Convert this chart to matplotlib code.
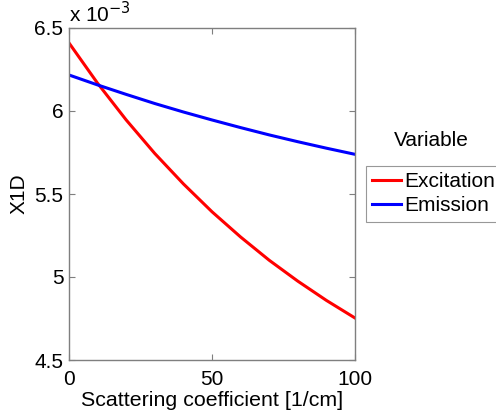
import matplotlib
matplotlib.use("Agg")
import matplotlib.pyplot as plt
from matplotlib.ticker import FuncFormatter

# Scattering coefficient [1/cm]
scattering = [0, 10, 20, 30, 40, 50, 60, 70, 80, 90, 100]
# X1D values for each variable
x1d_excitation = [6.410e-3, 6.167e-3, 5.946e-3, 5.744e-3, 5.561e-3, 5.393e-3,
                  5.241e-3, 5.101e-3, 4.975e-3, 4.859e-3, 4.753e-3]
x1d_emission = [6.217e-3, 6.157e-3, 6.100e-3, 6.045e-3, 5.994e-3, 5.946e-3,
                5.900e-3, 5.856e-3, 5.815e-3, 5.776e-3, 5.739e-3]
series_names = ["Excitation", "Emission"]
x_ticks = [0, 50, 100]
y_ticks = [4.5e-3, 5e-3, 5.5e-3, 6e-3, 6.5e-3]

plt.rcParams["font.family"] = ["Liberation Sans", "DejaVu Sans"]
fs = 15
gray = "#7f7f7f"

fig = plt.figure(figsize=(4.96, 4.17), dpi=100)
ax = fig.add_axes([69 / 496, 1 - 360 / 417, (355 - 69) / 496, (360 - 28) / 417])

l1, = ax.plot(scattering, x1d_excitation, color="#ff0000", lw=2.2)
l2, = ax.plot(scattering, x1d_emission, color="#0000ff", lw=2.2)

ax.set_xlim(0, 100)
ax.set_ylim(4.5e-3, 6.5e-3)
ax.set_xticks(x_ticks)
ax.set_yticks(y_ticks)
ax.yaxis.set_major_formatter(FuncFormatter(lambda v, p: f"{v * 1e3:g}"))
ax.xaxis.set_major_formatter(FuncFormatter(lambda v, p: f"{v:g}"))

for s in ax.spines.values():
    s.set_color(gray)
    s.set_linewidth(1.0)
ax.tick_params(direction="in", length=4, width=0.8, color=gray,
               labelsize=fs, labelcolor="black", top=True, right=True)
ax.tick_params(axis="x", pad=7)
ax.tick_params(axis="y", pad=4)

ax.set_xlabel("Scattering coefficient [1/cm]", fontsize=15.4, labelpad=2)
ax.set_ylabel("X1D", fontsize=fs, labelpad=4)

# exponent annotation above the y axis
ax.text(0.0, 1.005, r"x 10$^{-3}$", transform=ax.transAxes, fontsize=fs,
        ha="left", va="bottom")

leg = fig.legend([l1, l2], series_names, loc="upper left",
                 bbox_to_anchor=(366 / 496, 1 - 166 / 417), fontsize=fs,
                 frameon=True, fancybox=False, edgecolor=gray,
                 handlelength=1.4, handletextpad=0.15, borderpad=0.3,
                 labelspacing=0.25, borderaxespad=0)
leg.get_frame().set_linewidth(0.8)
fig.text(431 / 496, 1 - 140 / 417, "Variable", fontsize=fs,
         ha="center", va="center")

fig.savefig("out.png", dpi=100)
